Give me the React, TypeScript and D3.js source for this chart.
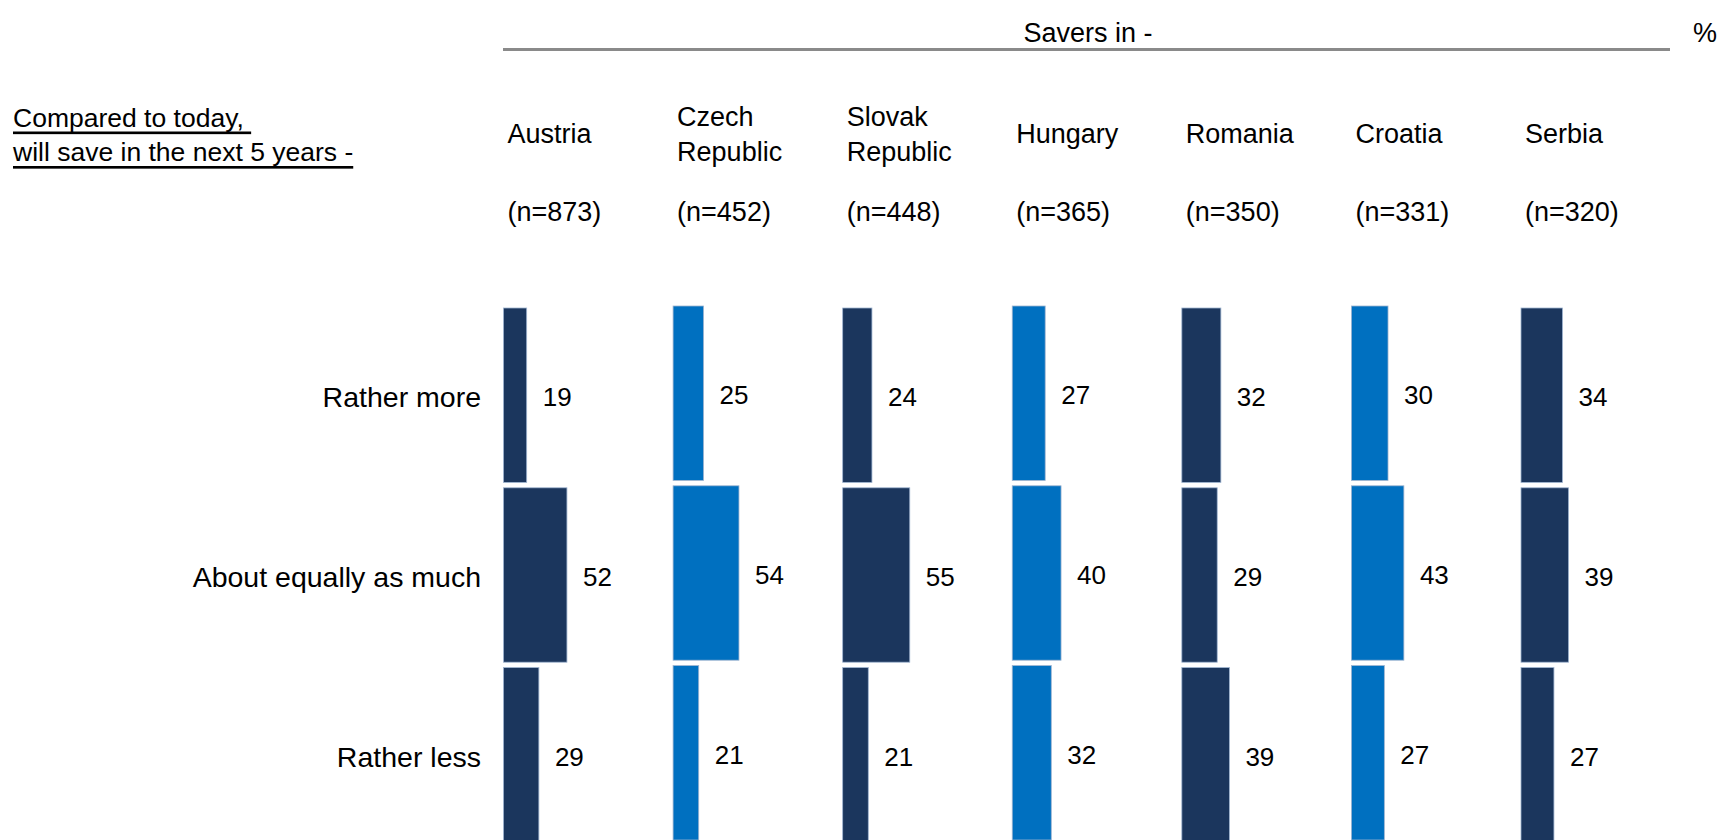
import React from "react";
import * as d3 from "d3";

const countries = ["Austria", "Czech Republic", "Slovak Republic", "Hungary", "Romania", "Croatia", "Serbia"];
const countryLines = [["Austria"], ["Czech", "Republic"], ["Slovak", "Republic"], ["Hungary"], ["Romania"], ["Croatia"], ["Serbia"]];
const sampleSizes = [873, 452, 448, 365, 350, 331, 320];
const rows = ["Rather more", "About equally as much", "Rather less"];
const ratherMore = [19, 25, 24, 27, 32, 30, 34];
const aboutEqual = [52, 54, 55, 40, 29, 43, 39];
const ratherLess = [29, 21, 21, 32, 39, 27, 27];
const highlighted = [false, true, false, true, false, true, false];

const W = 1723;
const H = 840;
const FONT = "'Liberation Sans', Arial, sans-serif";
const DARK = "#1b365d";
const LIGHT = "#0070c0";

export default function App() {
  const values = [ratherMore, aboutEqual, ratherLess];
  const x = d3.scalePoint<string>().domain(countries).range([503.5, 1521]);
  const y = d3.scaleBand<string>().domain(rows).range([308, 842]).paddingInner(0.03);
  const w = d3.scaleLinear().domain([0, 100]).range([0, 122]);
  const fsHead = 27;
  const fsLeft = 26.5;
  const fsRow = 28.5;
  const fsVal = 26;

  return (
    <div style={{ position: "fixed", left: 0, top: 0 }}>
      <svg width={W} height={H} style={{ display: "block", fontFamily: FONT }}>
        <rect width={W} height={H} fill="#fff" />
        {/* header */}
        <text x={1088} y={33} fontSize={fsHead} textAnchor="middle" dominantBaseline="central" fill="#000">Savers in -</text>
        <text x={1717} y={33} fontSize={fsHead} textAnchor="end" dominantBaseline="central" fill="#000">%</text>
        <line x1={503} x2={1670} y1={49.5} y2={49.5} stroke="#8a8a8a" strokeWidth={3} />
        {/* left heading */}
        <text x={13} y={117.5} fontSize={fsLeft} dominantBaseline="central" fill="#000" textDecoration="underline" style={{ whiteSpace: "pre" }}>{"Compared to today, "}</text>
        <text x={13} y={152} fontSize={fsLeft} dominantBaseline="central" fill="#000" textDecoration="underline" style={{ whiteSpace: "pre" }}>will save in the next 5 years -</text>
        {/* country headers */}
        {countries.map((c, i) => {
          const lines = countryLines[i];
          const cx = (x(c) as number) + 4;
          return (
            <g key={c}>
              {lines.length === 1 ? (
                <text x={cx} y={134} fontSize={fsHead} dominantBaseline="central" fill="#000">{lines[0]}</text>
              ) : (
                lines.map((l, k) => (
                  <text key={k} x={cx} y={116.5 + k * 35} fontSize={fsHead} dominantBaseline="central" fill="#000">{l}</text>
                ))
              )}
              <text x={cx} y={212} fontSize={fsHead} dominantBaseline="central" fill="#000">{`(n=${sampleSizes[i]})`}</text>
            </g>
          );
        })}
        {/* row labels */}
        {rows.map((r) => (
          <text key={r} x={481} y={(y(r) as number) + y.bandwidth() / 2 + 2} fontSize={fsRow} textAnchor="end" dominantBaseline="central" fill="#000">{r}</text>
        ))}
        {/* bars */}
        {rows.map((r, ri) =>
          countries.map((c, ci) => {
            const v = values[ri][ci];
            const off = highlighted[ci] ? -2 : 0;
            const bx = x(c) as number;
            const by = (y(r) as number) + off;
            const bw = w(v);
            return (
              <g key={r + c}>
                <rect x={bx} y={by} width={bw} height={y.bandwidth()} fill={highlighted[ci] ? LIGHT : DARK} stroke="#9fb4d0" strokeWidth={0.8} />
                <text x={bx + bw + 16} y={by + y.bandwidth() / 2 + 2} fontSize={fsVal} dominantBaseline="central" fill="#000">{v}</text>
              </g>
            );
          })
        )}
      </svg>
    </div>
  );
}
